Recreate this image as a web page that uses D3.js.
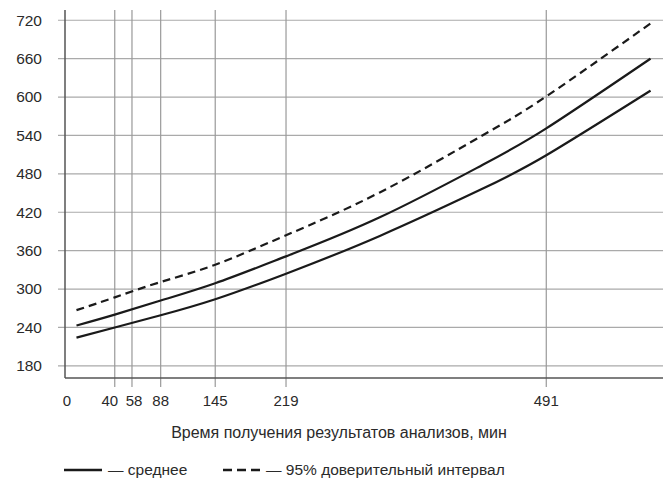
<!DOCTYPE html>
<html>
<head>
<meta charset="utf-8">
<script src="https://cdn.jsdelivr.net/npm/d3@7"></script>
<style>
  body { margin: 0; background: #fff; }
  svg text { font-family: "Liberation Sans", Arial, sans-serif; fill: #2a2a2a; }
</style>
</head>
<body>
<div class="diagram"></div>
<script>
// time, min
const minutes = [0, 40, 88, 145, 219, 317, 422, 491, 600];
const meanVals = [243, 260, 282, 309, 351, 412, 492, 551, 660];
const lowerVals = [224, 240, 259, 284, 324, 383, 455, 509, 610];
const upperVals = [267, 287, 311, 338, 384, 451, 538, 601, 715];

const xTicks = [40, 58, 88, 145, 219, 491];
const yTicks = [180, 240, 300, 360, 420, 480, 540, 600, 660, 720];
const xTitle = "Время получения результатов анализов, мин";
const legendMean = "— среднее";
const legendCI = "— 95% доверительный интервал";

const W = 667, H = 480;
const m = { left: 65, right: 4, top: 10, bottom: 102 };

const svg = d3.select(".diagram").append("svg")
  .attr("width", W).attr("height", H);

const x = d3.scaleLinear().domain([-12, 613]).range([m.left, W - m.right]);
const y = d3.scaleLinear().domain([161, 736]).range([H - m.bottom, m.top]);

// horizontal grid + left ticks
svg.append("g").selectAll("line").data(yTicks).enter().append("line")
  .attr("x1", m.left - 7).attr("x2", W - m.right)
  .attr("y1", d => y(d)).attr("y2", d => y(d))
  .attr("stroke", "#aaa").attr("stroke-width", 1.2);

svg.append("g").selectAll("text").data(yTicks).enter().append("text")
  .attr("x", 42).attr("y", d => y(d)).attr("dy", "0.35em")
  .attr("text-anchor", "end").attr("font-size", 15.5).text(d => d);

// vertical grid + bottom ticks
svg.append("g").selectAll("line").data(xTicks).enter().append("line")
  .attr("x1", d => x(d)).attr("x2", d => x(d))
  .attr("y1", m.top).attr("y2", H - m.bottom + 9)
  .attr("stroke", "#999").attr("stroke-width", 1.2);

svg.append("g").selectAll("text").data([0].concat(xTicks)).enter().append("text")
  .attr("x", d => d === 0 ? m.left + 2 : x(d))
  .attr("dx", d => d === 40 ? -5 : d === 58 ? 2 : 0)
  .attr("y", 406)
  .attr("text-anchor", "middle").attr("font-size", 15).text(d => d);

// axes lines
svg.append("line").attr("x1", m.left).attr("x2", m.left)
  .attr("y1", m.top).attr("y2", H - m.bottom)
  .attr("stroke", "#555").attr("stroke-width", 1.5);
svg.append("line").attr("x1", m.left).attr("x2", W - m.right)
  .attr("y1", H - m.bottom).attr("y2", H - m.bottom)
  .attr("stroke", "#555").attr("stroke-width", 1.5);

// curves
const line = vals => d3.line()
  .x((d, i) => x(minutes[i]))
  .y(d => y(d))
  .curve(d3.curveNatural)(vals);

svg.append("path").attr("d", line(upperVals)).attr("fill", "none")
  .attr("stroke", "#1a1a1a").attr("stroke-width", 2.2).attr("stroke-dasharray", "8,5");
svg.append("path").attr("d", line(meanVals)).attr("fill", "none")
  .attr("stroke", "#1a1a1a").attr("stroke-width", 2.2);
svg.append("path").attr("d", line(lowerVals)).attr("fill", "none")
  .attr("stroke", "#1a1a1a").attr("stroke-width", 2.2);

// axis title
svg.append("text").attr("x", 339).attr("y", 437.5)
  .attr("text-anchor", "middle").attr("font-size", 16).text(xTitle);

// legend
const ly = 470;
svg.append("line").attr("x1", 64).attr("x2", 102).attr("y1", ly).attr("y2", ly)
  .attr("stroke", "#1a1a1a").attr("stroke-width", 2.4);
svg.append("text").attr("x", 108).attr("y", ly).attr("dy", "0.35em")
  .attr("font-size", 15.5).text(legendMean);
svg.append("line").attr("x1", 223).attr("x2", 260).attr("y1", ly).attr("y2", ly)
  .attr("stroke", "#1a1a1a").attr("stroke-width", 2.4).attr("stroke-dasharray", "9,5");
svg.append("text").attr("x", 266).attr("y", ly).attr("dy", "0.35em")
  .attr("font-size", 15.5).text(legendCI);
</script>
</body>
</html>
